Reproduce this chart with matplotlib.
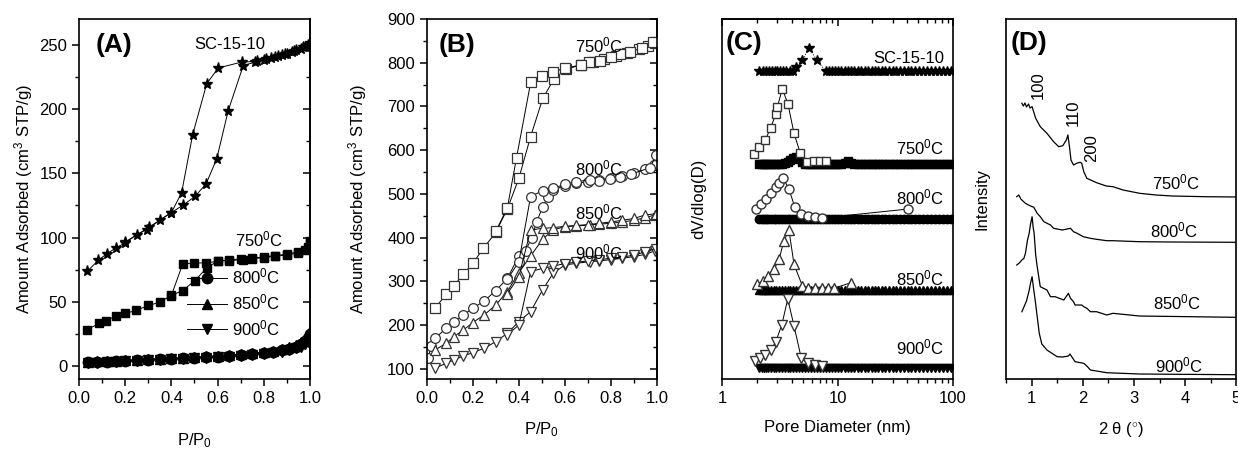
import matplotlib
matplotlib.use("Agg")
import matplotlib.pyplot as plt
from matplotlib.ticker import MultipleLocator, NullFormatter, LogLocator, NullLocator

plt.rcParams['font.family'] = ['Liberation Sans', 'DejaVu Sans']
plt.rcParams['mathtext.fontset'] = 'custom'
plt.rcParams['mathtext.rm'] = 'Liberation Sans'
plt.rcParams['mathtext.it'] = 'Liberation Sans:italic'
plt.rcParams['font.size'] = 11

# ---------------- (A) isotherms, SC-15-10 and 750 / 800 / 850 / 900 C
a_sc_ads_p = [0.036, 0.084, 0.12, 0.16, 0.2, 0.25, 0.293, 0.35, 0.397, 0.449, 0.502, 0.55, 0.596, 0.646,
              0.711, 0.762, 0.80, 0.83, 0.86, 0.88, 0.90, 0.92, 0.94, 0.96, 0.98, 0.99, 0.998]
a_sc_ads_v = [73.8, 82.4, 87.3, 92, 95.9, 102.3, 106.2, 113.5, 119.2, 125, 132, 141.7, 161.1, 198.7,
              233.7, 236.5, 238, 239.5, 241, 242, 243, 244, 245.5, 247, 248.5, 249.5, 251]
a_sc_des_p = [0.998, 0.97, 0.93, 0.89, 0.85, 0.81, 0.77, 0.704, 0.603, 0.553, 0.492, 0.444, 0.40, 0.303, 0.2]
a_sc_des_v = [250, 248, 245, 242.5, 240.5, 238.5, 237, 236.5, 231.9, 219.7, 180, 134.7, 119.5, 108, 96.5]

a_750_ads_p = [0.036, 0.087, 0.117, 0.16, 0.2, 0.247, 0.3, 0.35, 0.398, 0.449, 0.502, 0.553, 0.603,
               0.651, 0.711, 0.75, 0.8, 0.85, 0.9, 0.95, 0.98, 0.99, 0.998]
a_750_ads_v = [28.5, 33.2, 35.5, 38.9, 41, 43.3, 47.2, 49.7, 54.9, 58.8, 66.6, 76.4, 82.1,
               82.1, 82.9, 83.5, 84.5, 85.5, 86.5, 88, 90, 93, 96]
a_750_des_p = [0.998, 0.95, 0.9, 0.85, 0.8, 0.75, 0.7, 0.65, 0.603, 0.55, 0.499, 0.449, 0.40]
a_750_des_v = [97, 89, 87, 86, 85, 84, 83.5, 82.5, 81.6, 80.3, 80.3, 79.5, 55]

a_low_p = [0.04, 0.08, 0.12, 0.16, 0.2, 0.25, 0.3, 0.35, 0.4, 0.45, 0.5, 0.55, 0.6, 0.65, 0.7,
           0.75, 0.8, 0.84, 0.88, 0.91, 0.94, 0.96, 0.98, 0.99, 0.998]
a_800_v = [3, 3.3, 3.6, 3.9, 4.2, 4.6, 5, 5.4, 5.8, 6.2, 6.6, 7, 7.5, 8, 8.6,
           9.3, 10.2, 11, 12.2, 13.5, 15.2, 17, 19.5, 22, 25]
a_850_v = [3.5, 3.8, 4.1, 4.4, 4.7, 5.1, 5.5, 5.9, 6.3, 6.7, 7.1, 7.6, 8.1, 8.7, 9.3,
           10, 11, 12, 13.3, 14.8, 16.5, 18.5, 21, 24, 27]
a_900_v = [2.5, 2.8, 3.1, 3.4, 3.7, 4.1, 4.5, 4.9, 5.3, 5.7, 6.1, 6.5, 7, 7.5, 8,
           8.6, 9.4, 10.2, 11.2, 12.4, 13.8, 15.2, 17, 18.5, 20]

# ---------------- (B) isotherms, 750 / 800 / 850 / 900 C
b_750_ads_p = [0.036, 0.084, 0.118, 0.159, 0.2, 0.246, 0.3, 0.35, 0.4, 0.451, 0.504, 0.553, 0.604,
               0.669, 0.72, 0.77, 0.82, 0.87, 0.92, 0.96, 0.99]
b_750_ads_v = [238.7, 270.7, 290.5, 316.4, 341.5, 375.8, 412.4, 465.7, 535.8, 631, 718.7, 763, 785,
               795, 802.5, 808, 816, 823, 831, 838, 846]
b_750_des_p = [0.995, 0.983, 0.933, 0.883, 0.839, 0.799, 0.752, 0.705, 0.669, 0.6, 0.55, 0.499, 0.452,
               0.39, 0.35, 0.3]
b_750_des_v = [848, 846.7, 833, 825.3, 819.3, 813.8, 804.7, 802.4, 794.9, 787.3, 779.5, 769.7, 756.7,
               583, 468, 415]

b_800_ads_p = [0.007, 0.019, 0.036, 0.084, 0.118, 0.159, 0.2, 0.249, 0.3, 0.35, 0.4, 0.429, 0.455,
               0.477, 0.503, 0.527, 0.549, 0.6, 0.65, 0.7, 0.75, 0.8, 0.85, 0.9, 0.95, 0.988]
b_800_ads_v = [125.9, 153, 170, 193, 206.7, 223.4, 238.7, 255.4, 279, 307.2, 358.3, 370.5, 398.7,
               435.2, 471, 494, 509, 519, 524, 528, 532, 537, 542, 549, 556, 566]
b_800_des_p = [0.995, 0.97, 0.889, 0.838, 0.795, 0.75, 0.708, 0.65, 0.6, 0.549, 0.503, 0.451, 0.40, 0.35]
b_800_des_v = [588, 560, 545.7, 539.6, 534, 529.7, 532, 528, 522, 513, 507.6, 494, 345, 305]

b_850_ads_p = [0.036, 0.084, 0.118, 0.159, 0.2, 0.249, 0.3, 0.35, 0.4, 0.451, 0.503, 0.549, 0.6,
               0.65, 0.708, 0.75, 0.8, 0.85, 0.9, 0.95, 0.99]
b_850_ads_v = [143.4, 158.7, 173.9, 189, 206, 223.4, 246.3, 276.8, 320.2, 358.3, 396.4, 417.7, 425.3,
               426.9, 429, 431, 433, 436, 440, 446, 452]
b_850_des_p = [0.995, 0.948, 0.9, 0.85, 0.8, 0.75, 0.7, 0.65, 0.6, 0.549, 0.503, 0.451, 0.40, 0.35]
b_850_des_v = [455, 452, 444, 440, 436, 433, 430, 428, 426, 423, 421.5, 417.7, 311, 272]

b_900_ads_p = [0.036, 0.084, 0.118, 0.159, 0.2, 0.249, 0.3, 0.35, 0.4, 0.451, 0.503, 0.549, 0.6,
               0.65, 0.708, 0.75, 0.8, 0.85, 0.9, 0.95, 0.99]
b_900_ads_v = [101.5, 113, 120.6, 129.7, 137.3, 147.2, 162.5, 181.5, 208.2, 231, 280.6, 318.7, 337.7,
               341.5, 345.3, 347, 350, 353, 357, 362, 370]
b_900_des_p = [0.995, 0.95, 0.9, 0.85, 0.8, 0.75, 0.7, 0.65, 0.6, 0.549, 0.503, 0.451, 0.40, 0.35]
b_900_des_v = [375, 368, 360, 356, 353, 350, 347, 344, 341, 335, 330, 322.5, 200.6, 178]

# ---------------- (C) pore size distributions (offset curves, arbitrary units)
c_diam = [2.1, 2.2, 2.3, 2.4, 2.5, 2.65, 2.8, 2.95, 3.1, 3.3, 3.5, 3.7, 3.9, 4.1, 4.35, 4.6, 4.9, 5.2,
          5.5, 5.85, 6.2, 6.6, 7.0, 7.45, 7.9, 8.4, 8.9, 9.5, 10.1, 10.8, 11.5, 12.3, 13.1, 14.0, 15.0,
          16.0, 17.2, 18.4, 19.7, 21.1, 22.6, 24.2, 26, 28, 30, 32.3, 34.8, 37.5, 40.5, 43.7, 47.2, 51,
          55, 59.5, 64.5, 70, 76, 82.5, 89.5, 97]
c_sc_d = [2.1, 2.25, 2.4, 2.55, 2.7, 2.85, 3.0, 3.2, 3.4, 3.6, 3.85, 4.1, 4.35, 4.96, 5.67, 6.6, 7.9,
          8.4, 8.9, 9.5, 10.1, 10.8, 11.5, 12.3, 13.1, 14.0, 15.0, 16.0, 17.2, 18.4, 19.7, 21.1, 22.6,
          24.2, 26, 28, 30, 32.3, 34.8, 37.5, 40.5, 43.7, 47.2, 51, 55, 59.5, 64.5, 70, 76, 82.5, 89.5, 97]
c_sc_v = [308, 308, 308, 308, 308, 308, 308, 308, 308, 308, 308, 308, 312, 319, 331, 319, 308,
          308, 308, 308, 308, 308, 308, 308, 308, 308, 308, 308, 308, 308, 308, 308, 308,
          308, 308, 308, 308, 308, 308, 308, 308, 308, 308, 308, 308, 308, 308, 308, 308, 308, 308, 308]
c_750_base = [215, 215, 215, 215, 215, 215, 215, 215, 215, 215, 216, 217, 219, 221, 222, 220, 217, 215,
              215, 215, 215, 215, 215, 215, 215, 215, 215, 215, 215, 215, 216, 218, 216, 215, 215,
              215, 215, 215, 215, 215, 215, 215, 215, 215, 215, 215, 215, 215, 215, 215, 215, 215,
              215, 215, 215, 215, 215, 215, 215, 215]
c_800_base = [160, 160, 160, 160, 160, 160, 160, 160, 160, 160, 160, 160, 160, 160, 160,
              160, 160, 160, 160, 160, 160, 160, 160, 160, 160, 160, 160, 160, 160, 160,
              160, 160, 160, 160, 160, 160, 160, 160, 160, 160, 160, 160, 160, 160, 160,
              160, 160, 160, 160, 160, 160, 160, 160, 160, 160, 160, 160, 160, 160, 160]
c_850_base = [89, 89, 89, 89, 89, 89, 89, 89, 89, 89, 89, 89, 89, 89, 89, 89, 89, 89, 89, 89,
              89, 89, 89, 89, 89, 89, 89, 89, 89, 89, 89, 89, 89, 89, 89, 89, 89, 89, 89, 89,
              89, 89, 89, 89, 89, 89, 89, 89, 89, 89, 89, 89, 89, 89, 89, 89, 89, 89, 89, 89]
c_900_base = [11, 11, 11, 11, 11, 11, 11, 11, 11, 11, 11, 11, 11, 11, 11, 11, 11, 11, 11, 11,
              11, 11, 11, 11, 11, 11, 11, 11, 11, 11, 11, 11, 11, 11, 11, 11, 11, 11, 11, 11,
              11, 11, 11, 11, 11, 11, 11, 11, 11, 11, 11, 11, 11, 11, 11, 11, 11, 11, 11, 11]

c_750_open_d = [1.89, 2.09, 2.37, 2.64, 2.92, 3.01, 3.33, 3.73, 4.20, 4.76, 5.41, 6.2, 7.0, 7.9]
c_750_open_v = [225.3, 232.3, 239, 251.3, 264.7, 271.7, 290.3, 274.7, 245.7, 226, 217.3, 218, 218, 218]
c_800_open_d = [1.96, 2.16, 2.39, 2.64, 2.92, 3.12, 3.40, 3.80, 4.26, 4.86, 5.59, 6.4, 7.3, 41]
c_800_open_v = [169.7, 175, 180, 185.7, 192.3, 196.3, 200.7, 189.7, 172.3, 165, 163.3, 162, 161, 170]
c_850_open_d = [2.02, 2.28, 2.52, 2.82, 3.12, 3.44, 3.80, 4.20, 4.96, 5.6, 6.4, 7.3, 8.3, 9.4, 13.1]
c_850_open_v = [95, 98, 103, 109.7, 119.7, 138.3, 149, 114.7, 93.3, 91, 91, 91, 91, 91, 96.3]
c_900_open_d = [1.93, 2.13, 2.36, 2.64, 2.92, 3.29, 3.71, 4.2, 4.86, 5.59, 6.4, 7.3]
c_900_open_v = [18, 20.7, 24, 29, 37.3, 54, 80, 53.3, 20.7, 15.7, 14, 13.5]

# ---------------- (D) low-angle XRD (offset curves, arbitrary units)
d_750_x = [0.81, 0.84, 0.87, 0.9, 0.94, 0.97, 1.01, 1.08, 1.17, 1.3, 1.43, 1.53, 1.61, 1.68, 1.71,
           1.74, 1.77, 1.82, 1.88, 1.95, 1.98, 2.02, 2.08, 2.27, 2.46, 2.59, 2.79, 3.11, 3.43, 3.75, 4.4, 5.0]
d_750_y = [275.7, 273, 276, 272, 275, 271, 272.3, 260.7, 252.3, 245.7, 237.3, 232.3, 233.3, 239, 244,
           232.3, 219, 214, 215.7, 216.7, 215.7, 207.3, 200.7, 196.3, 193, 192.3, 189, 185.7, 184, 183, 182.3, 182]
d_800_x = [0.71, 0.75, 0.79, 0.83, 0.88, 0.94, 1.01, 1.04, 1.11, 1.17, 1.24, 1.37, 1.43, 1.6, 1.76,
           1.82, 1.89, 2.01, 2.15, 2.27, 2.47, 2.59, 3.11, 3.75, 5.0]
d_800_y = [182.3, 184, 180, 178, 175.7, 174, 172.3, 172, 165.7, 162.3, 157.3, 154, 150.7, 149, 150.7,
           147.3, 145.7, 142.3, 140.7, 139.7, 138.3, 138.3, 137.3, 137, 136.7]
d_850_x = [0.71, 0.76, 0.81, 0.85, 0.88, 0.92, 0.95, 0.98, 1.01, 1.03, 1.05, 1.08, 1.11, 1.17, 1.3,
           1.37, 1.46, 1.63, 1.72, 1.76, 1.82, 1.85, 1.98, 2.02, 2.08, 2.15, 2.27, 2.47, 2.59, 3.11, 5.0]
d_850_y = [114, 116, 119, 120.7, 125.7, 139, 145, 155, 162.3, 152, 145.7, 124, 112.3, 92.3, 89,
           82.3, 82.3, 79, 85.7, 80.7, 77.3, 74, 74, 72.3, 70.7, 67.3, 67.3, 64, 65.7, 63, 61.7]
d_900_x = [0.81, 0.85, 0.9, 0.95, 0.98, 1.01, 1.04, 1.07, 1.11, 1.15, 1.2, 1.3, 1.5, 1.6, 1.72,
           1.75, 1.85, 2.02, 2.08, 2.15, 2.47, 3.12, 5.0]
d_900_y = [67.3, 72, 78, 88, 96, 102.3, 90, 79, 62.3, 45.7, 35, 29, 22.3, 22, 23, 25, 17.3, 15.7, 13,
           9, 6.3, 5, 4.3]

fig = plt.figure(figsize=(12.38, 4.51), dpi=100)
bot, h = 0.1596, 0.7983
axA = fig.add_axes([0.0638, bot, 0.1866, h])
axB = fig.add_axes([0.3447, bot, 0.1860, h])
axC = fig.add_axes([0.5832, bot, 0.1866, h])
axD = fig.add_axes([0.8126, bot, 0.1860, h])

lw = 0.7
k = 'black'

# ---- A
axA.plot(a_sc_ads_p, a_sc_ads_v, '-', color=k, lw=lw, marker='*', ms=8, mfc=k, mec=k)
axA.plot(a_sc_des_p, a_sc_des_v, '-', color=k, lw=lw, marker='*', ms=8, mfc=k, mec=k)
axA.plot(a_750_ads_p, a_750_ads_v, '-', color=k, lw=lw, marker='s', ms=6, mfc=k, mec=k)
axA.plot(a_750_des_p, a_750_des_v, '-', color=k, lw=lw, marker='s', ms=6, mfc=k, mec=k)
l1, = axA.plot(a_low_p, a_800_v, '-', color=k, lw=lw, marker='o', ms=7.5, mfc=k, mec=k, label='800$^0$C')
l2, = axA.plot(a_low_p, a_850_v, '-', color=k, lw=lw, marker='^', ms=7.5, mfc=k, mec=k, label='850$^0$C')
l3, = axA.plot(a_low_p, a_900_v, '-', color=k, lw=lw, marker='v', ms=7.5, mfc=k, mec=k, label='900$^0$C')
axA.legend(handles=[l1, l2, l3], frameon=False, loc='upper left', bbox_to_anchor=(0.44, 0.33),
           fontsize=12, handlelength=2.4, handletextpad=0.3, labelspacing=0.35, borderaxespad=0)
axA.set_xlim(0, 1)
axA.set_ylim(-10, 270)
axA.xaxis.set_major_locator(MultipleLocator(0.2))
axA.xaxis.set_minor_locator(MultipleLocator(0.1))
axA.yaxis.set_major_locator(MultipleLocator(50))
axA.yaxis.set_minor_locator(MultipleLocator(25))
axA.xaxis.set_major_formatter(matplotlib.ticker.FormatStrFormatter('%.1f'))
axA.set_xlabel('P/P$_0$', fontsize=12)
axA.set_ylabel('Amount Adsorbed (cm$^3$ STP/g)', fontsize=12)
axA.xaxis.set_label_coords(0.5, -0.145)
axA.yaxis.set_label_coords(-0.19, 0.5)
axA.text(0.5, 250, 'SC-15-10', fontsize=12, va='center', ha='left')
axA.text(0.675, 98.6, '750$^0$C', fontsize=12, va='center', ha='left')
axA.text(0.07, 250, '(A)', fontsize=19, fontweight='bold', va='center', ha='left')

# ---- B
for px, pv, mk in [(b_750_ads_p, b_750_ads_v, 's'), (b_750_des_p, b_750_des_v, 's'),
                   (b_800_ads_p, b_800_ads_v, 'o'), (b_800_des_p, b_800_des_v, 'o'),
                   (b_850_ads_p, b_850_ads_v, '^'), (b_850_des_p, b_850_des_v, '^'),
                   (b_900_ads_p, b_900_ads_v, 'v'), (b_900_des_p, b_900_des_v, 'v')]:
    axB.plot(px, pv, '-', color=k, lw=lw, marker=mk, ms=7, mfc='white', mec='#333333', mew=0.9)
axB.set_xlim(0, 1)
axB.set_ylim(77, 900)
axB.xaxis.set_major_locator(MultipleLocator(0.2))
axB.xaxis.set_minor_locator(MultipleLocator(0.1))
axB.yaxis.set_major_locator(MultipleLocator(100))
axB.yaxis.set_minor_locator(MultipleLocator(50))
axB.xaxis.set_major_formatter(matplotlib.ticker.FormatStrFormatter('%.1f'))
axB.set_xlabel('P/P$_0$', fontsize=12)
axB.set_ylabel('Amount Adsorbed (cm$^3$ STP/g)', fontsize=12)
axB.xaxis.set_label_coords(0.5, -0.115)
axB.yaxis.set_label_coords(-0.25, 0.5)
for lab, yv in [('750$^0$C', 840.6), ('800$^0$C', 559.4), ('850$^0$C', 458.9), ('900$^0$C', 367.4)]:
    axB.text(0.644, yv, lab, fontsize=12, va='center', ha='left')
axB.text(0.05, 840, '(B)', fontsize=19, fontweight='bold', va='center', ha='left')

# ---- C
axC.set_xscale('log')
axC.plot(c_sc_d, c_sc_v, ':', color=k, lw=lw, marker='*', ms=7.5, mfc=k, mec=k)
axC.plot(c_diam, c_750_base, '-', color=k, lw=lw, marker='s', ms=5.5, mfc=k, mec=k)
axC.plot(c_750_open_d, c_750_open_v, '-', color=k, lw=lw, marker='s', ms=6, mfc='white', mec='#333333')
axC.plot(c_diam, c_800_base, '-', color=k, lw=lw, marker='o', ms=6, mfc=k, mec=k)
axC.plot(c_800_open_d, c_800_open_v, '-', color=k, lw=lw, marker='o', ms=6.5, mfc='white', mec='#333333')
axC.plot(c_diam, c_850_base, '-', color=k, lw=lw, marker='^', ms=6, mfc=k, mec=k)
axC.plot(c_850_open_d, c_850_open_v, '-', color=k, lw=lw, marker='^', ms=7, mfc='white', mec='#333333')
axC.plot(c_diam, c_900_base, '-', color=k, lw=lw, marker='v', ms=6, mfc=k, mec=k)
axC.plot(c_900_open_d, c_900_open_v, '-', color=k, lw=lw, marker='v', ms=7, mfc='white', mec='#333333')
axC.set_xlim(1, 100)
axC.set_ylim(0, 360)
axC.yaxis.set_major_locator(NullLocator())
axC.xaxis.set_major_locator(LogLocator(base=10))
axC.xaxis.set_minor_locator(LogLocator(base=10, subs=range(2, 10)))
axC.xaxis.set_minor_formatter(NullFormatter())
axC.xaxis.set_major_formatter(matplotlib.ticker.FuncFormatter(lambda v, p: '%d' % v))
axC.set_xlabel('Pore Diameter (nm)', fontsize=12)
axC.set_ylabel('dV/dlog(D)', fontsize=12)
axC.xaxis.set_label_coords(0.5, -0.115)
axC.yaxis.set_label_coords(-0.07, 0.5)
for lab, yv in [('SC-15-10', 320), ('750$^0$C', 232), ('800$^0$C', 182), ('850$^0$C', 101), ('900$^0$C', 32)]:
    axC.text(83.6, yv, lab, fontsize=12, va='center', ha='right')
axC.text(1.07, 336, '(C)', fontsize=19, fontweight='bold', va='center', ha='left')

# ---- D
for dx, dy in [(d_750_x, d_750_y), (d_800_x, d_800_y), (d_850_x, d_850_y), (d_900_x, d_900_y)]:
    axD.plot(dx, dy, '-', color=k, lw=0.9)
axD.set_xlim(0.5, 5)
axD.set_ylim(0, 360)
axD.yaxis.set_major_locator(NullLocator())
axD.xaxis.set_major_locator(MultipleLocator(1))
axD.xaxis.set_minor_locator(MultipleLocator(0.5))
axD.set_xlabel('2 θ ($^{\\circ}$)', fontsize=12)
axD.set_ylabel('Intensity', fontsize=12)
axD.xaxis.set_label_coords(0.5, -0.115)
axD.yaxis.set_label_coords(-0.07, 0.5)
for lab, xv, yv in [('750$^0$C', 3.35, 197), ('800$^0$C', 3.32, 149), ('850$^0$C', 3.37, 77), ('900$^0$C', 3.41, 14)]:
    axD.text(xv, yv, lab, fontsize=12, va='center', ha='left')
for lab, xv, yv in [('100', 1.14, 294), ('110', 1.82, 266), ('200', 2.18, 231)]:
    axD.text(xv, yv, lab, fontsize=12, va='center', ha='center', rotation=90)
axD.text(0.6, 336, '(D)', fontsize=19, fontweight='bold', va='center', ha='left')

# ---- tick styling (Origin look)
for ax in (axA, axB, axC, axD):
    for sp in ax.spines.values():
        sp.set_linewidth(1.2)
    ax.tick_params(axis='both', which='major', direction='out', length=5, width=1.1, labelsize=12)
    ax.tick_params(axis='both', which='minor', direction='out', length=3, width=1.0)

# mirrored inward ticks on the right of A and B
for ax, maj, mnr in [(axA, 50, 25), (axB, 100, 50)]:
    sec = ax.secondary_yaxis('right')
    sec.yaxis.set_major_locator(MultipleLocator(maj))
    sec.yaxis.set_minor_locator(MultipleLocator(mnr))
    sec.tick_params(which='major', direction='in', length=5, width=1.1, labelright=False)
    sec.tick_params(which='minor', direction='in', length=3, width=1.0, labelright=False)
    sec.spines['right'].set_linewidth(1.2)

# mirrored inward ticks on top of C
secC = axC.secondary_xaxis('top')
secC.xaxis.set_major_locator(LogLocator(base=10))
secC.xaxis.set_minor_locator(LogLocator(base=10, subs=range(2, 10)))
secC.tick_params(which='major', direction='in', length=5, width=1.1, labeltop=False)
secC.tick_params(which='minor', direction='in', length=3, width=1.0, labeltop=False)
secC.xaxis.set_minor_formatter(NullFormatter())
secC.spines['top'].set_linewidth(1.2)

fig.savefig('out.png', dpi=100)
